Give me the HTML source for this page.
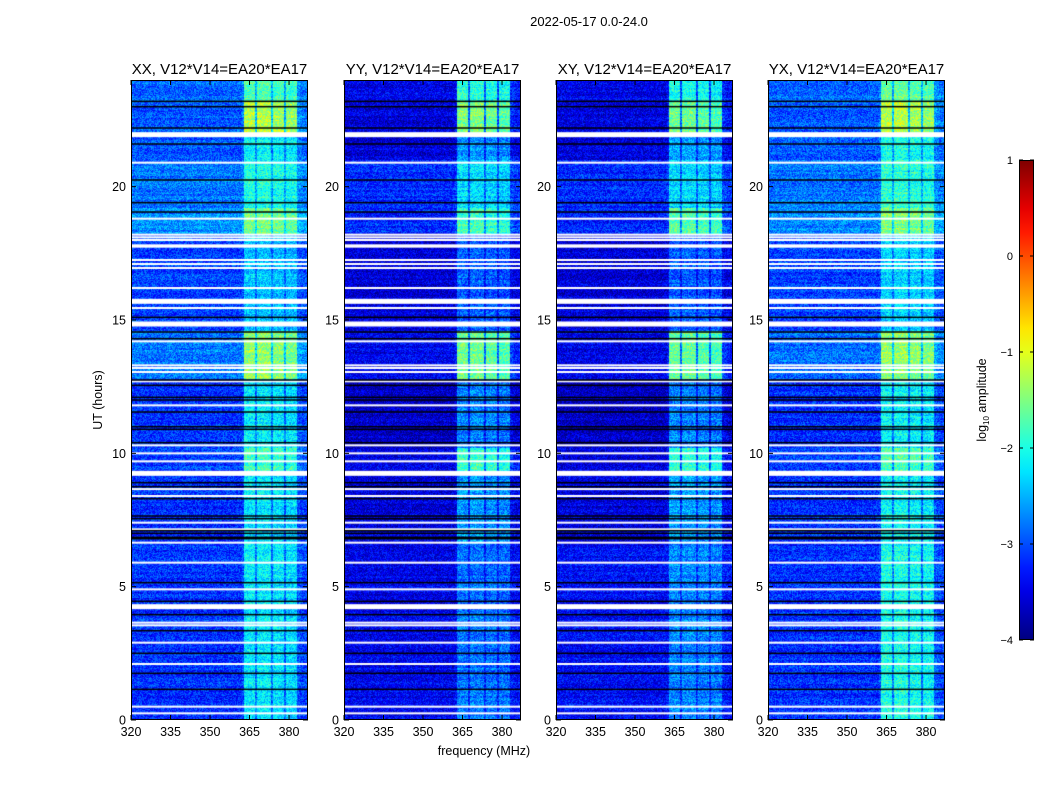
<!DOCTYPE html>
<html><head><meta charset="utf-8"><style>
body{margin:0;background:#fff;width:1050px;height:800px;position:relative;overflow:hidden;font-family:"Liberation Sans",sans-serif}
canvas{position:absolute}
svg{position:absolute;left:0;top:0}
</style></head><body>
<div id="panels"></div>
<svg id="ov" width="1050" height="800"></svg>
<script>
const panelTitles=["XX, V12*V14=EA20*EA17","YY, V12*V14=EA20*EA17","XY, V12*V14=EA20*EA17","YX, V12*V14=EA20*EA17"];
const segEdges=[0,6.6,9.2,10.2,12.8,14.6,18.2,19.2,21.0,22.0,23.2,24];
const baseXX=[-3.15,-3.15,-3.05,-3.15,-2.8,-3.05,-2.7,-2.8,-2.95,-2.95,-2.85];
const bandXX=[-2.2,-2.2,-1.8,-2.2,-1.4,-2.4,-1.6,-2.0,-2.1,-1.2,-1.7];
const baseYY=[-3.45,-3.55,-3.55,-3.65,-3.45,-3.55,-3.2,-3.2,-3.55,-3.55,-3.45];
const bandYY=[-2.8,-2.6,-1.9,-2.7,-1.6,-2.9,-1.8,-2.3,-2.6,-1.5,-1.9];
const baseXY=[-3.35,-3.55,-3.55,-3.65,-3.45,-3.55,-3.2,-3.2,-3.55,-3.55,-3.45];
const bandXY=[-2.7,-2.6,-1.9,-2.7,-1.6,-2.9,-1.7,-2.3,-2.6,-1.6,-2.0];
const baseYX=[-3.15,-3.15,-3.05,-3.15,-2.85,-3.05,-2.7,-2.8,-2.95,-2.95,-2.85];
const bandYX=[-2.0,-2.1,-1.7,-2.1,-1.4,-2.3,-1.5,-1.9,-2.0,-1.2,-1.6];
// 1-MHz channel gains 320..387
const chanStart=320;
const bandGain=[0,0,0,0,0,0,0,0,0,0,0,0,0,0,0,0,0,0,0,0,0,0,0,0,0,0,0,0,0,0,0,0,0,0,0,0,0,0,0,0,0,0,0.1,1,1,1,1,0.35,1,1,1,1,1,0.35,0.95,0.95,0.95,0.95,0.3,0.9,0.9,0.9,0.9,0.2,0.15,0.1,0.1,0.1];
const whiteLines=[11.8,10.3,10.0,9.7,8.66,8.4,7.4,7.15,6.65,5.9,4.9,3.65,3.55,2.9,2.1,0.5,0.25,20.9,18.8,18.2,18.1,18.0,17.8,17.75,17.25,17.1,16.95,16.2,15.45,14.2,13.3,13.2,13.05,12.7];
const whiteThick=[9.25,4.25,21.95,15.7,14.85];
const blackLines=[11.55,11.0,10.9,10.4,8.9,8.75,8.3,7.65,7.55,7.1,7.0,6.85,6.8,5.15,4.45,3.95,3.35,2.5,1.75,1.15,23.2,23.0,22.2,21.6,20.25,19.4,19.05,15.1,14.55,14.3,12.75,12.55,12.1,12.0];
const xTicks=[320,335,350,365,380];
const yTicks=[0,5,10,15,20];
const cbTicks=[1,0,-1,-2,-3,-4];

const lefts=[131,344,556,768], PT=80, PW=177, PH=640;
const F0=320,F1=387.2,T0=0,T1=24,VMIN=-4,VMAX=1;
const xs=(f,i)=>lefts[i]+(f-F0)/(F1-F0)*PW;
const ys=t=>PT+PH-(t-T0)/(T1-T0)*PH;
function jet(t){t=Math.max(0,Math.min(1,t));const c=v=>Math.round(255*Math.max(0,Math.min(1,v)));return [c(1.5-Math.abs(4*t-3)),c(1.5-Math.abs(4*t-2)),c(1.5-Math.abs(4*t-1))];}
function hash(a,b){let h=(a*374761393+b*668265263)|0;h=(h^(h>>>13))*1274126177|0;return ((h^(h>>>16))>>>0)/4294967296;}
const bases=[baseXX,baseYY,baseXY,baseYX], bands=[bandXX,bandYY,bandXY,bandYX];
const svg=document.getElementById('ov');const NS='http://www.w3.org/2000/svg';
function el(tag,attrs,txt){const e=document.createElementNS(NS,tag);for(const k in attrs)e.setAttribute(k,attrs[k]);if(txt!==undefined)e.textContent=txt;svg.appendChild(e);return e;}
for(let p=0;p<4;p++){
  const cv=document.createElement('canvas');cv.width=PW;cv.height=PH;cv.style.left=lefts[p]+'px';cv.style.top=PT+'px';
  
  
  document.getElementById('panels').appendChild(cv);
  const ctx=cv.getContext('2d');const img=ctx.createImageData(PW,PH);
  for(let y=0;y<PH;y++){
    const t=T1-(y+0.5)/PH*(T1-T0);
    let s=0;while(s<segEdges.length-2&&t>=segEdges[s+1])s++;
    const b=bases[p][s],bd=bands[p][s];
    const rowN=(hash(p*7+3,Math.floor(y/2))-0.5)*0.25;
    for(let x=0;x<PW;x++){
      const f=F0+(x+0.5)/PW*(F1-F0);
      const ch=Math.min(bandGain.length-1,Math.floor(f-chanStart));
      const g=bandGain[ch];
      let v=b+(bd-b)*g+rowN+(hash(x+p*1000,y)-0.5)*0.8;
      const c=jet((v-VMIN)/(VMAX-VMIN));const i=(y*PW+x)*4;
      img.data[i]=c[0];img.data[i+1]=c[1];img.data[i+2]=c[2];img.data[i+3]=255;
    }
  }
  ctx.putImageData(img,0,0);
  ctx.fillStyle='#fff';
  whiteLines.forEach(h=>{ctx.fillRect(0,ys(h)-PT-1,PW,2);});
  whiteThick.forEach(h=>{ctx.fillRect(0,ys(h)-PT-2.5,PW,5);});
  ctx.fillStyle='#000';
  blackLines.forEach(h=>{ctx.fillRect(0,ys(h)-PT-0.75,PW,1.5);});
  el('rect',{x:lefts[p]+0.5,y:PT+0.5,width:PW-1,height:PH-1,fill:'none',stroke:'#000','stroke-width':1,});
  const tt=el('text',{x:lefts[p]+PW/2,y:74,'text-anchor':'middle','font-size':15});tt.textContent=panelTitles[p];
  
  
  xTicks.forEach(f=>{const x=xs(f,p);
    el('line',{x1:x,x2:x,y1:PT+PH,y2:PT+PH-5,stroke:'#000'});el('line',{x1:x,x2:x,y1:PT,y2:PT+5,stroke:'#000'});
    const l=el('text',{x:x,y:736,'text-anchor':'middle','font-size':12.5},f);
    
    });
  yTicks.forEach(h=>{const y=ys(h);
    el('line',{x1:lefts[p],x2:lefts[p]+5,y1:y,y2:y,stroke:'#000'});el('line',{x1:lefts[p]+PW,x2:lefts[p]+PW-5,y1:y,y2:y,stroke:'#000'});
    const l=el('text',{x:lefts[p]-5,y:y+4.5,'text-anchor':'end','font-size':12.5},h);
    
    });
}
el('text',{x:589,y:26,'text-anchor':'middle','font-size':13,},'2022-05-17 0.0-24.0');
el('text',{x:484,y:755,'text-anchor':'middle','font-size':12.5,},'frequency (MHz)');
el('text',{x:102,y:400,'text-anchor':'middle','font-size':12.5,transform:'rotate(-90 102 400)',},'UT (hours)');
// colorbar
const defs=el('defs',{});const lg=document.createElementNS(NS,'linearGradient');lg.setAttribute('id','jg');lg.setAttribute('x1','0');lg.setAttribute('y1','1');lg.setAttribute('x2','0');lg.setAttribute('y2','0');defs.appendChild(lg);
for(let k=0;k<=20;k++){const c=jet(k/20);const s=document.createElementNS(NS,'stop');s.setAttribute('offset',k/20);s.setAttribute('stop-color','rgb('+c.join(',')+')');lg.appendChild(s);}
el('rect',{x:1019.5,y:160.5,width:14,height:479,fill:'url(#jg)',stroke:'#000',});
const cby=v=>160+(VMAX-v)/(VMAX-VMIN)*480;
cbTicks.forEach(v=>{const y=cby(v);el('line',{x1:1019,x2:1023,y1:y,y2:y,stroke:'#000'});el('line',{x1:1034,x2:1030,y1:y,y2:y,stroke:'#000'});
  const l=el('text',{x:1013,y:y+4,'text-anchor':'end','font-size':11},v<0?'\u2212'+(-v):v);
  
  });
const cl=el('text',{x:986,y:400,'text-anchor':'middle','font-size':12.5,transform:'rotate(-90 986 400)',});
cl.innerHTML='log<tspan font-size="8" dy="3">10</tspan><tspan dy="-3"> amplitude</tspan>';
</script>
</body></html>
